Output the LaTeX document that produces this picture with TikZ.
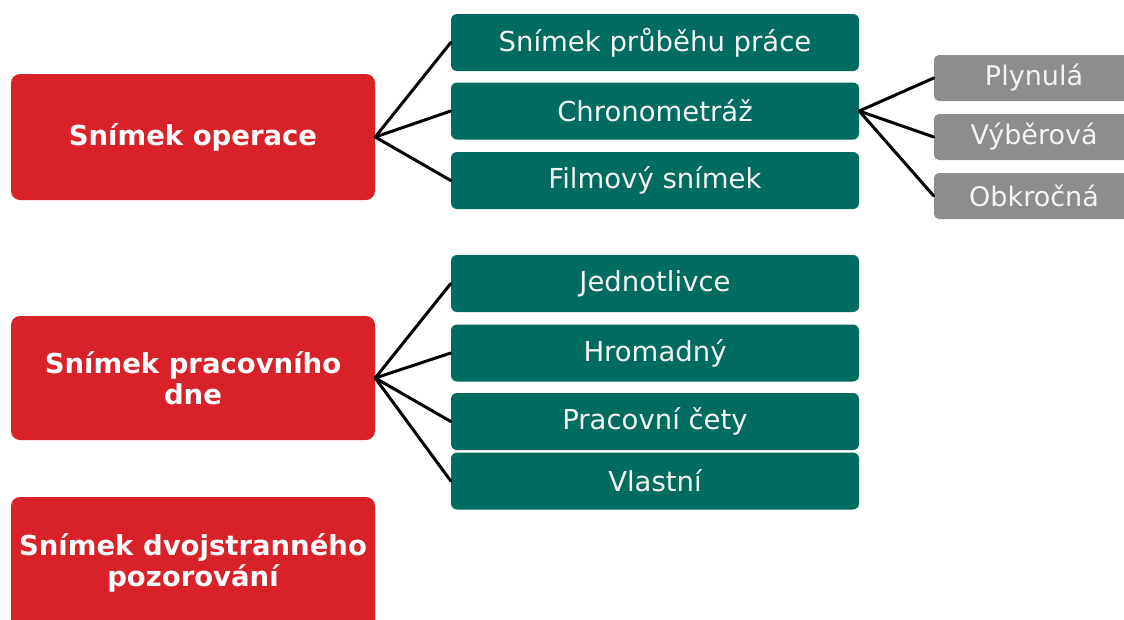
\documentclass[tikz,border=0pt]{standalone}
\usepackage{fontspec}
\setmainfont{DejaVu Sans}
\definecolor{myred}{HTML}{D92128}
\definecolor{myteal}{HTML}{006C60}
\definecolor{mygrey}{HTML}{8D8D8F}
\definecolor{mytext}{HTML}{F4F4F4}
\begin{document}
\begin{tikzpicture}[x=1pt,y=-1pt,
  redbox/.style={fill=myred, rounded corners=9pt, text=white, inner sep=0pt, minimum width=364pt, align=center, font=\fontsize{27.5}{31}\selectfont\bfseries},
  tealbox/.style={fill=myteal, rounded corners=6pt, text=mytext, inner sep=0pt, minimum width=408pt, minimum height=57pt, font=\fontsize{27.5}{31}\selectfont},
  greybox/.style={fill=mygrey, rounded corners=5pt, text=mytext, inner sep=0pt, minimum width=200pt, minimum height=46pt, font=\fontsize{27}{30}\selectfont},
  conn/.style={draw=black, line width=3pt, line cap=round}]
\useasboundingbox (0,0) rectangle (1124,619);
\clip (0,0) rectangle (1124,619);
% red
\node[redbox, minimum height=126pt] (r1) at (193,137) {Snímek operace};
\node[redbox, minimum height=124pt] (r2) at (193,378) {Snímek pracovního\\dne};
\node[redbox, minimum height=132pt] (r3) at (193,563) {Snímek dvojstranného\\pozorování};
% teal
\node[tealbox] (t1) at (655,42.5) {Snímek průběhu práce};
\node[tealbox] (t2) at (655,111) {Chronometráž};
\node[tealbox] (t3) at (655,180.5) {Filmový snímek};
\node[tealbox] (t4) at (655,283.5) {Jednotlivce};
\node[tealbox] (t5) at (655,353) {Hromadný};
\node[tealbox] (t6) at (655,421.5) {Pracovní čety};
\node[tealbox] (t7) at (655,481) {Vlastní};
% grey
\node[greybox] (g1) at (1034,78) {Plynulá};
\node[greybox] (g2) at (1034,137) {Výběrová};
\node[greybox] (g3) at (1034,196) {Obkročná};
% connectors
\foreach \t in {t1,t2,t3} \draw[conn] (r1.east) -- (\t.west);
\foreach \t in {t4,t5,t6,t7} \draw[conn] (r2.east) -- (\t.west);
\foreach \g in {g1,g2,g3} \draw[conn] (t2.east) -- (\g.west);
\end{tikzpicture}
\end{document}
